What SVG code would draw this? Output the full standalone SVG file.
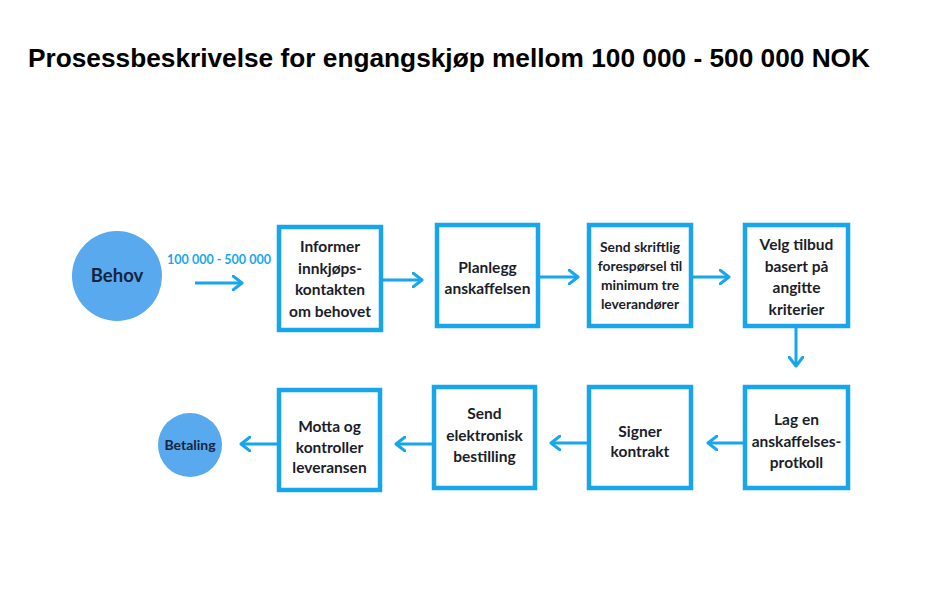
<svg xmlns="http://www.w3.org/2000/svg" width="925" height="589" viewBox="0 0 925 589">
<defs>
<marker id="ah" viewBox="0 0 12 16" refX="10" refY="8" markerWidth="12" markerHeight="16" markerUnits="userSpaceOnUse" orient="auto">
<path d="M1,1 L10,8 L1,15" fill="none" stroke="#17a6ec" stroke-width="3" stroke-linecap="round" stroke-linejoin="round"/>
</marker>
<style>
.box{fill:#fff;stroke:#17a6ec;stroke-width:4.5}
.t{font-family:Lato,"Open Sans","Liberation Sans",sans-serif;font-weight:bold;font-size:15.5px;fill:#1b1d2a;text-anchor:middle}
.s{font-size:13.8px}
.c{fill:#58a9ee}
.ct{font-family:Lato,"Open Sans","Liberation Sans",sans-serif;font-weight:bold;fill:#17243d;text-anchor:middle}
.ar{fill:none;stroke:#17a6ec;stroke-width:3;marker-end:url(#ah)}
</style>
</defs>
<rect width="925" height="589" fill="#fff"/>
<text x="28" y="67" font-family="'Liberation Sans',Arial,sans-serif" font-weight="bold" font-size="26" fill="#000" textLength="842" lengthAdjust="spacingAndGlyphs">Prosessbeskrivelse for engangskjøp mellom 100 000 - 500 000 NOK</text>
<g id="behov">
<circle class="c" cx="117" cy="276" r="45"/>
<text class="ct" x="117" y="282" font-size="18.5">Behov</text>
</g>
<text x="219" y="264" font-family="Lato,'Open Sans','Liberation Sans',sans-serif" font-weight="bold" font-size="12.5" fill="#1aa7e8" text-anchor="middle">100 000 - 500 000</text>
<g id="n1">
<rect class="box" x="279" y="227" width="102" height="103"/>
<text class="t" x="330" y="252">Informer</text>
<text class="t" x="330" y="274">innkjøps-</text>
<text class="t" x="330" y="295">kontakten</text>
<text class="t" x="330" y="317">om behovet</text>
</g>
<g id="n2">
<rect class="box" x="437" y="225" width="101" height="101"/>
<text class="t" x="487.5" y="273">Planlegg</text>
<text class="t" x="487.5" y="294">anskaffelsen</text>
</g>
<g id="n3">
<rect class="box" x="589" y="225" width="102" height="101"/>
<text class="t s" x="640" y="252">Send skriftlig</text>
<text class="t s" x="640" y="271">forespørsel til</text>
<text class="t s" x="640" y="290">minimum tre</text>
<text class="t s" x="640" y="309">leverandører</text>
</g>
<g id="n4">
<rect class="box" x="745" y="225" width="103" height="101"/>
<text class="t" x="796.5" y="250">Velg tilbud</text>
<text class="t" x="796.5" y="272">basert på</text>
<text class="t" x="796.5" y="293">angitte</text>
<text class="t" x="796.5" y="315">kriterier</text>
</g>
<g id="n5">
<rect class="box" x="745" y="387" width="103" height="101"/>
<text class="t" x="796.5" y="425">Lag en</text>
<text class="t" x="796.5" y="447">anskaffelses-</text>
<text class="t" x="796.5" y="468">protkoll</text>
</g>
<g id="n6">
<rect class="box" x="589" y="387" width="102" height="101"/>
<text class="t" x="640" y="437">Signer</text>
<text class="t" x="640" y="457">kontrakt</text>
</g>
<g id="n7">
<rect class="box" x="434" y="387" width="101" height="101"/>
<text class="t" x="484.5" y="419">Send</text>
<text class="t" x="484.5" y="441">elektronisk</text>
<text class="t" x="484.5" y="462">bestilling</text>
</g>
<g id="n8">
<rect class="box" x="279" y="390" width="101" height="100"/>
<text class="t" x="329.5" y="432">Motta og</text>
<text class="t" x="329.5" y="453">kontroller</text>
<text class="t" x="329.5" y="473">leveransen</text>
</g>
<g id="betaling">
<circle class="c" cx="190" cy="445" r="32"/>
<text class="ct" x="190" y="450" font-size="14">Betaling</text>
</g>
<g id="connectors">
<line class="ar" x1="195" y1="283" x2="242" y2="283"/>
<line class="ar" x1="383" y1="280" x2="422" y2="280"/>
<line class="ar" x1="540" y1="277" x2="578" y2="277"/>
<line class="ar" x1="693" y1="277" x2="729" y2="277"/>
<line class="ar" x1="796" y1="328" x2="796" y2="366"/>
<line class="ar" x1="743" y1="443" x2="708" y2="443"/>
<line class="ar" x1="587" y1="443" x2="551" y2="443"/>
<line class="ar" x1="432" y1="444" x2="396" y2="444"/>
<line class="ar" x1="277" y1="444" x2="241" y2="444"/>
</g>
</svg>
